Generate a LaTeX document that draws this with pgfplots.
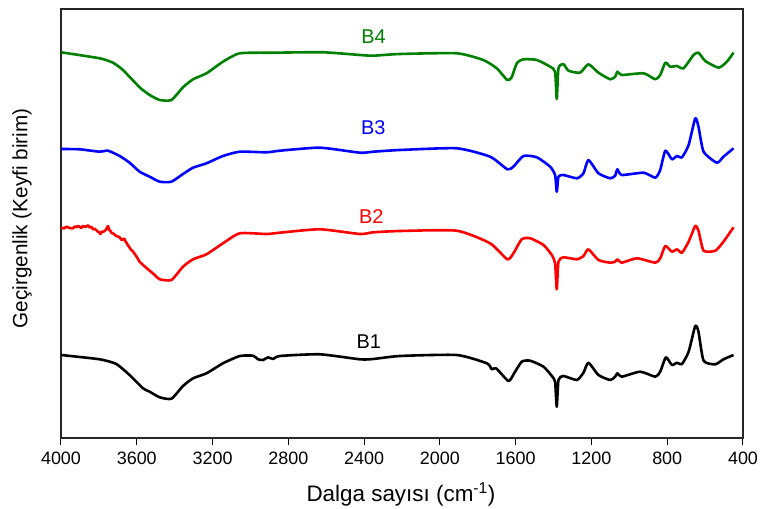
\documentclass[border=0pt]{standalone}
\usepackage{pgfplots}
\pgfplotsset{compat=1.18}
\usepackage{fontspec}
\setmainfont{Liberation Sans}
\definecolor{cgreen}{RGB}{0,128,0}
\definecolor{cblue}{RGB}{0,0,255}
\definecolor{cred}{RGB}{255,0,0}
\begin{document}
\begin{tikzpicture}
\useasboundingbox (-61bp,-71bp) rectangle (701bp,438bp);
\begin{axis}[
  at={(0,0)}, anchor=south west,
  scale only axis, width=682bp, height=429bp,
  x dir=reverse, xmin=400, xmax=4000, ymin=0, ymax=429,
  xtick={400,800,...,4000}, ytick=\empty,
  tick align=outside, major tick length=7bp,
  xtick pos=bottom,
  axis line style={line width=1.1bp, draw=black!85},
  every tick/.style={line width=1bp, black},
  /pgf/number format/assume math mode=true,
  /pgf/number format/1000 sep={},
  ticklabel style={font=\fontsize{18}{19}\selectfont},
  xticklabel style={yshift=-3bp},
  xlabel={Dalga sayısı (cm\textsuperscript{-1})},
  ylabel={Geçirgenlik (Keyfi birim)},
  every axis x label/.style={at={(axis description cs:0.4985,-0.148)}, anchor=base, font=\fontsize{22.5}{24}\selectfont},
  every axis y label/.style={at={(axis description cs:-0.0572,0.5117)}, rotate=90, anchor=center, font=\fontsize{20.8}{22}\selectfont},
  every axis plot/.append style={line width=2.6bp, line join=round, smooth, tension=0.35},
  clip=false,
]
% B4
\addplot[cgreen] coordinates {
(4000,385.7)(3796,379.7)(3726,375.3)(3673,368)(3585,350.7)(3532,343)(3479,338)(3417,338)
(3356,350.7)(3303,358.7)(3232,364.7)(3145,376.3)(3056,384.7)(2880,385.3)(2616,385.7)
(2422,383)(2352,382.3)(2211,384)(1911,384.7)(1771,378)(1700,369.7)(1644,358)(1621,360.7)
(1594,374.7)(1559,378.7)(1488,378)(1418,371.3)(1392,366.3)(1383,339)(1374,369.7)(1348,374)
(1321,367.3)(1260,365.3)(1216,373.7)(1163,365.3)(1101,358.7)(1075,361.3)(1063,366.3)(1040,363)
(925,364.7)(863,358.7)(837,363)(810,375.3)(784,371.3)(749,372)(714,369.7)(661,383)(635,385.3)
(599,377)(529,370.3)(485,376.3)(450,385.3)};
% B3
\addplot[cblue] coordinates {
(4000,289)(3902,288.7)(3796,286.3)(3752,287.3)(3690,282)(3638,275.3)(3585,266.3)(3532,261.3)
(3479,256.3)(3417,256.3)(3356,264)(3303,270.3)(3232,274.7)(3145,282)(3056,286.3)(2915,285.7)
(2845,287.3)(2634,290.3)(2422,285.3)(2352,286.3)(2211,288)(1911,289.7)(1735,281.3)(1644,268.7)
(1612,271.3)(1559,282)(1488,280.7)(1418,271.3)(1392,263)(1383,246.3)(1374,261.3)(1348,263)
(1277,259.7)(1242,264.7)(1216,278)(1163,264.7)(1101,259.7)(1075,262.3)(1063,268.7)(1040,263)
(925,265.3)(863,260.3)(837,268)(810,287.3)(775,278.7)(749,282)(722,280.7)(687,293)(652,319.7)
(635,311.3)(608,286.3)(538,275.3)(503,281.3)(450,289.7)};
% B2
\addplot[cred] coordinates {
(4000,210.7)(3985,209.5)(3972,211.3)(3955,210)(3937,209.7)(3928,211.5)(3919,210.7)(3911,212)
(3902,211.3)(3893,210)(3884,212)(3870,211)(3858,212.7)(3848,210.5)(3840,211.3)(3830,208.5)
(3822,209.3)(3812,207.5)(3805,206.3)(3798,205.5)(3792,204)(3785,206.5)(3779,206)(3770,207)
(3764,208)(3752,212)(3746,208)(3740,207.3)(3733,205)(3726,204.7)(3718,203.5)(3708,202)(3700,201.5)
(3690,200.7)(3683,198.5)(3676,198)(3670,199.5)(3664,198.7)(3658,196)(3652,194.7)(3646,192.5)
(3641,191.3)(3635,189.5)(3629,188)(3620,186.5)(3611,184)(3598,180.5)(3585,176.3)(3558,171.5)
(3532,167.3)(3505,163)(3479,158.7)(3417,158)(3356,171.3)(3303,178.7)(3232,183.7)(3145,194.7)
(3056,204.7)(2915,204)(2845,205.3)(2634,208.7)(2422,204)(2352,205.7)(2211,207)(1911,207.3)
(1735,194.7)(1644,178.7)(1612,184.7)(1568,198.7)(1523,199.7)(1453,193)(1409,183)(1392,174.7)
(1383,148.7)(1374,176.3)(1348,180.7)(1277,178.7)(1242,182)(1216,188.7)(1163,178)(1101,175.3)
(1075,176.3)(1063,178.7)(1040,175.3)(960,179.7)(863,175.3)(837,179.7)(810,192)(775,186.3)
(749,188.7)(722,185.3)(687,196.3)(652,212)(635,207.3)(608,187.3)(546,187.3)(503,196.3)(450,210.7)};
% B1
\addplot[black] coordinates {
(4000,83)(3796,78.7)(3708,74)(3638,63)(3567,49.7)(3532,46.3)(3479,40.7)(3417,39.3)(3356,52)
(3303,59.7)(3232,64.7)(3145,74.7)(3056,82)(2986,82.3)(2960,78.7)(2933,78)(2907,80.7)(2880,79)
(2845,82)(2634,83.7)(2422,78.7)(2352,79)(2211,82)(1911,83)(1752,74.7)(1726,68.7)(1703,69.7)
(1638,57)(1608,64.7)(1568,76.3)(1523,77.3)(1453,71.3)(1409,62)(1392,56.3)(1383,31.3)(1374,58)
(1348,62)(1277,58)(1242,65.3)(1216,75.3)(1163,63)(1101,58)(1075,61.3)(1063,64.7)(1040,61.3)
(943,66.3)(863,61.3)(837,66.3)(807,80.7)(775,73)(749,75.3)(722,74)(687,86.3)(652,112)
(635,106.3)(608,77.3)(546,73.7)(503,78.7)(450,83)};
\node[cgreen, font=\fontsize{20}{21}\selectfont] at (axis cs:2350,401.3) {B4};
\node[cblue, font=\fontsize{20}{21}\selectfont] at (axis cs:2352,310) {B3};
\node[cred, font=\fontsize{20}{21}\selectfont] at (axis cs:2362,221.3) {B2};
\node[black, font=\fontsize{20}{21}\selectfont] at (axis cs:2375,96.3) {B1};
\end{axis}
\end{tikzpicture}
\end{document}
